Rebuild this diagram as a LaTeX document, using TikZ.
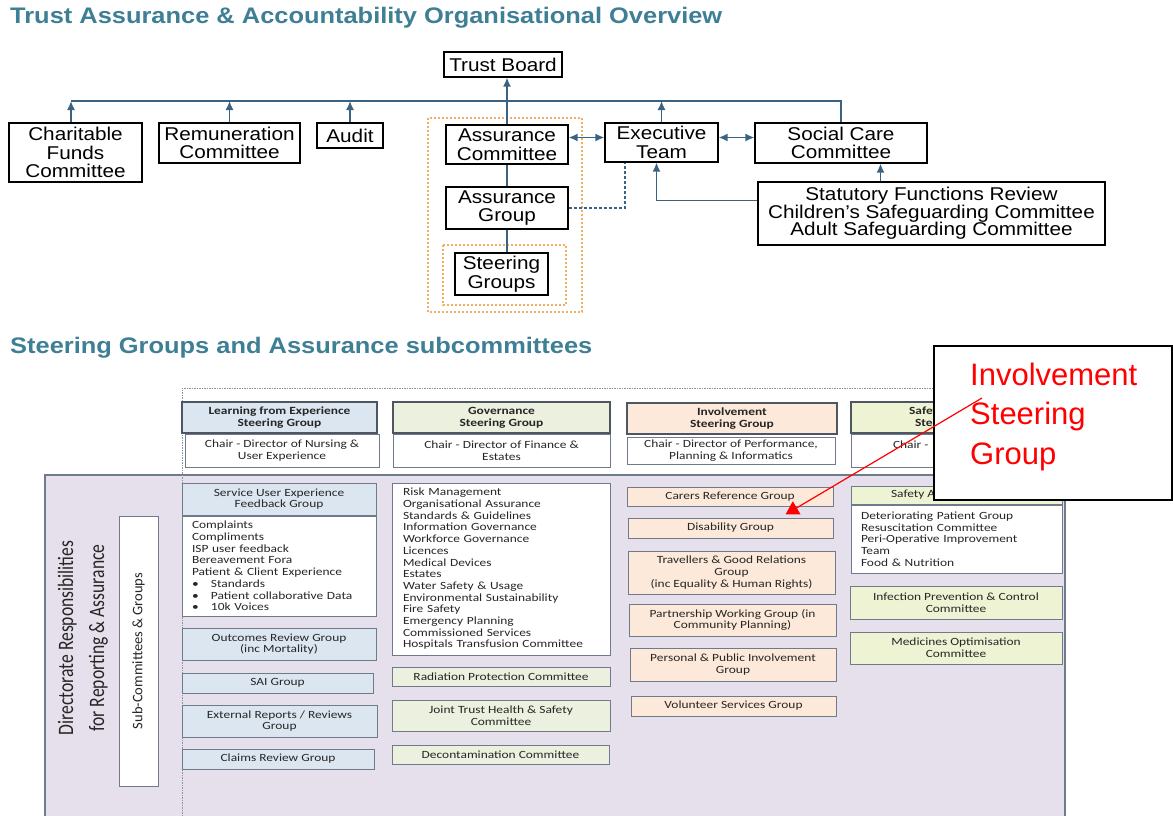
\documentclass[tikz,border=0pt]{standalone}
\usepackage{fontspec}
\setmainfont{Liberation Sans}[FakeStretch=1.12]
\newfontfamily\ttlfont{Liberation Sans}[FakeStretch=1.13]
\newfontfamily\calfont{Carlito}[FakeStretch=1.22]
\newfontfamily\dirfont{Carlito}[FakeStretch=0.8]
\newfontfamily\subcfont{Carlito}
\newfontfamily\notefont{Liberation Sans}
\usetikzlibrary{arrows.meta,positioning}
\definecolor{sgteal}{HTML}{3E7F95}
\definecolor{sglink}{HTML}{3A6383}
\definecolor{sgdash}{HTML}{F0B060}
\definecolor{sgpanel}{HTML}{E6E0EC}
\definecolor{sgedge}{HTML}{6F7B8A}
\definecolor{lfeblue}{HTML}{DCE6F1}
\definecolor{govgreen}{HTML}{EBF1DE}
\definecolor{invpeach}{HTML}{FDE9D9}
\definecolor{safyellow}{HTML}{EEF3D3}
\definecolor{notered}{HTML}{FF0000}
\newcommand\sgbullet{\makebox[19pt][l]{\textbullet}}

\begin{document}
\begin{tikzpicture}[x=1pt,y=-1pt,>={Latex[length=9pt,width=8pt]},node distance=0pt]
    \tikzset{sz/.style 2 args={minimum width=#1pt,minimum height=#2pt},
      box/.style={draw=black,line width=1.2pt,fill=white,align=center,inner sep=0pt,font=\fontsize{18.5}{18.5}\selectfont},
      link/.style={draw=sglink,line width=1.5pt},
      zone/.style={draw=sgdash,line width=1.3pt,dash pattern=on 2pt off 2pt},
      heading/.style={anchor=west,inner sep=0pt,text=sgteal,font=\ttlfont\bfseries\fontsize{22.5}{26}\selectfont},
      sg/.style={draw=sgedge,line width=1pt,align=center,inner sep=0pt,text=black!85,font=\calfont\fontsize{11}{11.7}\selectfont},
      head/.style={sg,line width=1.3pt,draw=sgedge!70!black,font=\calfont\bfseries\fontsize{11}{11.7}\selectfont},
      list/.style={sg,fill=white,align=left,inner xsep=10pt},
      lfe/.style={fill=lfeblue},gov/.style={fill=govgreen},inv/.style={fill=invpeach},saf/.style={fill=safyellow}}
    \useasboundingbox (0,0) rectangle (1173,816);
    \node[heading] (ttltop) at (10,18) {Trust Assurance \& Accountability Organisational Overview};
    \draw[zone] (428,118) rectangle (582,312);
    \draw[zone] (443,245) rectangle (566,305);
    \node[box,sz={118}{25}] (board) at (503,64.5) {Trust Board};
    \node[box,sz={133}{59}] (charity) at (75.5,152.5) {Charitable\\Funds\\Committee};
    \node[box,sz={141}{40}] (remun) at (229.5,143) {Remuneration\\Committee};
    \node[box,sz={66}{25}] (audit) at (350,135.5) {Audit};
    \node[box,sz={122}{39}] (asscom) at (507,144.5) {Assurance\\Committee};
    \node[box,sz={122}{42}] (assgrp) at (507,208) {Assurance\\Group};
    \node[box,sz={93}{42}] (steer) at (501.5,274) {Steering\\Groups};
    \node[box,sz={113}{39}] (exec) at (661.5,142.5) {Executive\\Team};
    \node[box,sz={172}{40}] (social) at (841,143) {Social Care\\Committee};
    \node[box,sz={347}{63},font=\fontsize{18.5}{17.5}\selectfont] (statut) at (931.5,213.5) {Statutory Functions Review\\Children's Safeguarding Committee\\Adult Safeguarding Committee};
    \coordinate (bus) at (0,101);
    \draw[link] ([xshift=-4.5pt]charity.north |- bus) -- (social.north |- bus) -- (social.north);
    \draw[link,->] ([xshift=-4.5pt]charity.north) -- ([xshift=-4.5pt]charity.north |- bus);
    \foreach \n in {remun,audit,exec}
      \draw[link,->] (\n.north) -- (\n.north |- bus);
    \draw[link,->] (asscom.north) -- (asscom.north |- board.south);
    \draw[link] (asscom.south) -- (assgrp.north);
    \draw[link] (assgrp.south) -- (assgrp.south |- steer.north);
    \draw[link,<->] ([yshift=7pt]asscom.east) -- ([yshift=7pt]asscom.east -| exec.west);
    \draw[link,<->] ([yshift=5pt]exec.east) -- ([yshift=5pt]exec.east -| social.west);
    \draw[link,->] ([xshift=-51pt]statut.north) -- ([xshift=-51pt]statut.north |- social.south);
    \draw[link,->] ([yshift=13pt]statut.west) -| ([xshift=-5pt]exec.south);
    \draw[link,line width=1.2pt,dash pattern=on 3pt off 2pt] (assgrp.east) -| ([xshift=-36.5pt]exec.south);

    \node[heading] (ttlsub) at (10,348) {Steering Groups and Assurance subcommittees};
    \fill[sgpanel] (45,475) rectangle (1065,816);
    \draw[sgedge,line width=1.5pt] (45,816) |- (1065,475) -- (1065,816);
    \draw[sgedge!80,line width=0.8pt,dash pattern=on 1.5pt off 1pt] (182,816) |- (1065,388);
    \node[rotate=90,align=center,inner sep=0pt,text=black!85,font=\dirfont\fontsize{22}{31}\selectfont] (dir) at (83,638) {Directorate Responsibilities\\for Reporting \& Assurance};
    \node[draw=sgedge,line width=1pt,fill=white,rotate=90,sz={270}{39},text=black!85,font=\subcfont\fontsize{14.5}{16}\selectfont] (subc) at (138.5,651) {Sub-Committees \& Groups};

    \node[head,lfe,sz={195}{31}] (lfehead) at (279.5,417.5) {Learning from Experience\\Steering Group};
    \node[sg,fill=white,sz={194}{33},below=0pt of lfehead,xshift=2.5pt] (lfechair) {Chair - Director of Nursing \&\\User Experience};
    \node[sg,lfe,sz={194}{32}] (suehead) at (279,499) {Service User Experience\\Feedback Group};
    \node[list,text width=174pt,minimum height=100pt,below=0pt of suehead] (suelist) {Complaints\\Compliments\\ISP user feedback\\Bereavement Fora\\Patient \& Client Experience\\\sgbullet Standards\\\sgbullet Patient collaborative Data\\\sgbullet 10k Voices};
    \node[sg,lfe,sz={194}{32}] (outcomes) at (279,644) {Outcomes Review Group\\(inc Mortality)};
    \node[sg,lfe,sz={191}{20}] (sai) at (277.5,683) {SAI Group};
    \node[sg,lfe,sz={195}{32}] (external) at (279.5,721) {External Reports / Reviews\\Group};
    \node[sg,lfe,sz={192}{20}] (claims) at (278,759) {Claims Review Group};

    \node[head,gov,sz={217}{31}] (govhead) at (501.5,417.5) {Governance\\Steering Group};
    \node[sg,fill=white,sz={217}{33},below=0pt of govhead] (govchair) {Chair - Director of Finance \&\\Estates};
    \node[list,text width=196pt,inner xsep=11pt,minimum height=172pt] (govlist) at (501,569) {Risk Management\\Organisational Assurance\\Standards \& Guidelines\\Information Governance\\Workforce Governance\\Licences\\Medical Devices\\Estates\\Water Safety \& Usage\\Environmental Sustainability\\Fire Safety\\Emergency Planning\\Commissioned Services\\Hospitals Transfusion Committee};
    \node[sg,gov,sz={218}{19}] (radiation) at (501,676.5) {Radiation Protection Committee};
    \node[sg,gov,sz={218}{31}] (joinths) at (501,715.5) {Joint Trust Health \& Safety\\Committee};
    \node[sg,gov,sz={217}{19}] (decon) at (500.5,754.5) {Decontamination Committee};

    \node[head,inv,sz={210}{31}] (invhead) at (732,418.5) {Involvement\\Steering Group};
    \node[sg,fill=white,sz={208}{27}] (invchair) at (731,450.5) {Chair - Director of Performance,\\Planning \& Informatics};
    \node[sg,inv,sz={206}{19}] (carers) at (730,496.5) {Carers Reference Group};
    \node[sg,inv,sz={205}{20}] (disab) at (730.5,528) {Disability Group};
    \node[sg,inv,sz={207}{43}] (travel) at (731.5,572.5) {Travellers \& Good Relations\\Group\\(inc Equality \& Human Rights)};
    \node[sg,inv,sz={207}{32}] (partner) at (732.5,620) {Partnership Working Group (in\\Community Planning)};
    \node[sg,inv,sz={206}{33}] (ppi) at (733,664.5) {Personal \& Public Involvement\\Group};
    \node[sg,inv,sz={205}{20}] (volunt) at (733.5,706) {Volunteer Services Group};

    \node[head,saf,sz={212}{31}] (safhead) at (957,417.5) {\hspace*{-6pt}\rlap{Safety}\hspace*{6pt}\hphantom{Steering Group}\\Steering Group};
    \node[sg,fill=white,sz={212}{33},below=0pt of safhead] (safchair) {\makebox[200pt][l]{\hspace*{36pt}Chair -}\\\phantom{X}};
    \node[sg,saf,sz={211}{18}] (safahead) at (956.5,495) {\makebox[205pt][l]{\hspace*{37pt}Safety A}};
    \node[list,text width=191pt,minimum height=68pt,below=0pt of safahead] (saflist) {Deteriorating Patient Group\\Resuscitation Committee\\Peri-Operative Improvement\\Team\\Food \& Nutrition};
    \node[sg,saf,sz={212}{33}] (infection) at (956,602.5) {Infection Prevention \& Control\\Committee};
    \node[sg,saf,sz={212}{32}] (medicines) at (956,648) {Medicines Optimisation\\Committee};

    \node[draw=black,line width=2pt,fill=white,sz={238}{154}] (callout) at (1053,423) {};
    \node[anchor=west,align=left,inner sep=0pt,text=notered,font=\notefont\fontsize{31}{39.5}\selectfont] (calltext) at (970,416.5) {Involvement\\Steering\\Group};
    \coordinate (calltail) at (982,398);
    \draw[notered,line width=1.2pt,-{Triangle[length=13pt,width=15pt]}] (calltail) -- ([xshift=55pt,yshift=3pt]disab.north);
  \end{tikzpicture}
\end{document}
